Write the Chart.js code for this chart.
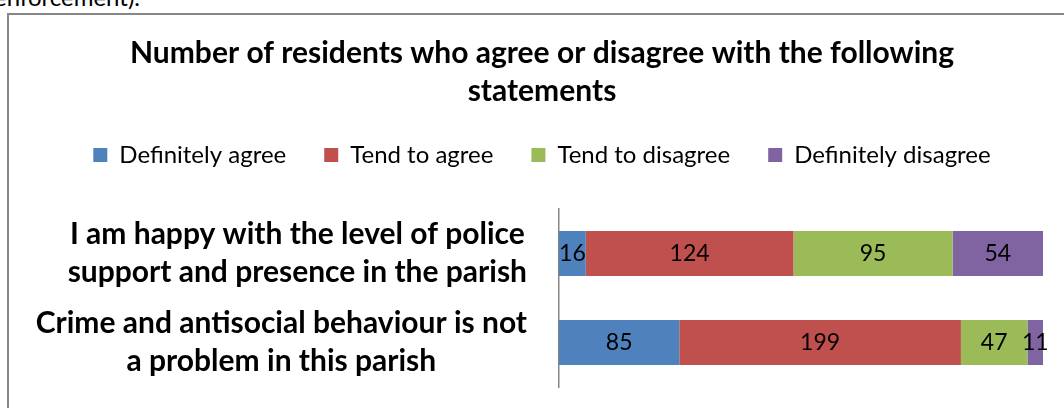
<!DOCTYPE html>
<html>
<head>
<meta charset="utf-8">
<script src="https://cdn.jsdelivr.net/npm/chart.js@4.4.1/dist/chart.umd.min.js"></script>
<style>
    html, body { margin: 0; padding: 0; background: #fff; overflow: hidden; }
    body { width: 1064px; height: 408px; position: relative; font-family: Lato, sans-serif; }
    .lead { position: absolute; left: -6px; top: -18px; font-size: 24px; color: #000; white-space: nowrap; }
    .frame { position: absolute; left: 7px; top: 13px; width: 1100px; height: 450px; border: 2px solid #878787; box-sizing: border-box; }
    .chart-wrap { position: absolute; left: 0; top: 0; width: 1064px; height: 408px; }
</style>
</head>
<body>
<div class="lead">enforcement).</div>
<div class="frame"></div>
<div class="chart-wrap"><canvas id="residents-chart" width="1064" height="408"></canvas></div>
<script>
const statements = [
    ['I am happy with the level of police', 'support and presence in the parish'],
    ['Crime and antisocial behaviour is not', 'a problem in this parish']
];
const responseLabels = ['Definitely agree', 'Tend to agree', 'Tend to disagree', 'Definitely disagree'];
const definitelyAgree = [16, 85];
const tendToAgree = [124, 199];
const tendToDisagree = [95, 47];
const definitelyDisagree = [54, 11];

const responseColors = ['#4F81BD', '#C0504D', '#9BBB59', '#8064A2'];
const responseCounts = [definitelyAgree, tendToAgree, tendToDisagree, definitelyDisagree];

// each statement is drawn as a 100% bar, so share of the row total
const rowTotals = statements.map((_, i) => responseCounts.reduce((sum, counts) => sum + counts[i], 0));

const datasets = responseCounts.map((counts, k) => ({
    label: responseLabels[k],
    data: counts.map((v, i) => v / rowTotals[i] * 100),
    counts: counts,
    backgroundColor: responseColors[k],
    categoryPercentage: 1,
    barPercentage: 0.506
}));

// count in the middle of every segment
const segmentLabels = {
    id: 'segmentLabels',
    afterDatasetsDraw(chart) {
        const ctx = chart.ctx;
        ctx.save();
        ctx.font = '23px Lato';
        ctx.fillStyle = '#000';
        ctx.textAlign = 'center';
        ctx.textBaseline = 'middle';
        chart.data.datasets.forEach((ds, d) => {
            chart.getDatasetMeta(d).data.forEach((bar, i) => {
                const {x, y, base} = bar.getProps(['x', 'y', 'base'], true);
                ctx.fillText(ds.counts[i], (x + base) / 2, y);
            });
        });
        ctx.restore();
    }
};

// statement text: lines centred inside a block that sits against the axis
const statementLabels = {
    id: 'statementLabels',
    afterDraw(chart) {
        const yScale = chart.scales.y;
        const ctx = chart.ctx;
        ctx.save();
        ctx.font = 'bold 30px Lato';
        ctx.fillStyle = '#000';
        ctx.textAlign = 'center';
        ctx.textBaseline = 'middle';
        statements.forEach((lines, i) => {
            const yMid = yScale.getPixelForTick(i);
            const blockWidth = Math.max(...lines.map(l => ctx.measureText(l).width));
            const xMid = yScale.right - 32 - blockWidth / 2;
            lines.forEach((line, j) => {
                ctx.fillText(line, xMid, yMid + (j - (lines.length - 1) / 2) * 38);
            });
        });
        ctx.restore();
    }
};

new Chart(document.getElementById('residents-chart'), {
    type: 'bar',
    data: {
        labels: statements,
        datasets: datasets
    },
    options: {
        indexAxis: 'y',
        responsive: false,
        devicePixelRatio: 1,
        animation: false,
        layout: {
            padding: {top: 34, left: 20, right: 0, bottom: 21}
        },
        plugins: {
            title: {
                display: true,
                text: ['Number of residents who agree or disagree with the following', 'statements'],
                color: '#000',
                font: {family: 'Lato', size: 30, weight: 'bold', lineHeight: 1.267},
                padding: {top: 0, bottom: -5}
            },
            legend: {
                labels: {
                    color: '#000',
                    font: {family: 'Lato', size: 24},
                    boxWidth: 14,
                    boxHeight: 14,
                    padding: 38
                }
            },
            tooltip: {enabled: false}
        },
        scales: {
            x: {
                stacked: true,
                min: 0,
                max: 100,
                display: false
            },
            y: {
                stacked: true,
                grid: {display: false},
                border: {display: true, color: '#868686', width: 1.5},
                ticks: {display: false},
                afterFit: scale => { scale.width = 539; }
            },
            // empty strips to keep the plot clear of the legend and the right edge
            gapTop: {
                type: 'linear',
                position: 'top',
                grid: {display: false},
                border: {display: false},
                ticks: {display: false},
                afterFit: scale => { scale.height = 32; }
            },
            gapRight: {
                type: 'category',
                position: 'right',
                grid: {display: false},
                border: {display: false},
                ticks: {display: false},
                afterFit: scale => { scale.width = 21; }
            }
        }
    },
    plugins: [segmentLabels, statementLabels]
});
</script>
</body>
</html>
